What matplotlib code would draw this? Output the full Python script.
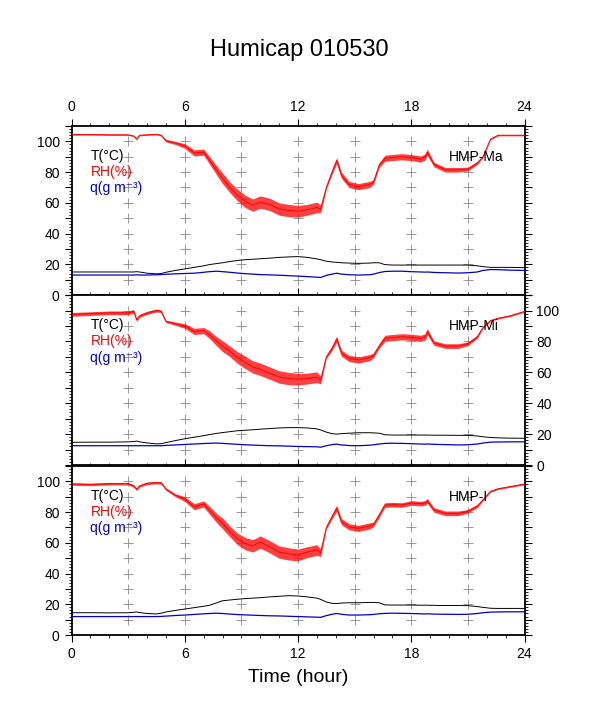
import numpy as np
import matplotlib.pyplot as plt
from matplotlib.ticker import MultipleLocator, FuncFormatter

plt.rcParams['font.family'] = ['Liberation Sans', 'DejaVu Sans']

hours = [0, 1, 2, 3, 3.3, 3.45, 3.6, 4, 4.5, 4.75, 5, 5.5, 6, 6.5, 7, 7.3,
         7.7, 8, 8.4, 8.8, 9.2, 9.6, 10, 10.5, 11, 11.5, 12, 12.5, 13, 13.2,
         13.5, 13.8, 14.05, 14.3, 14.7, 15.2, 15.8, 16, 16.3, 16.6, 17, 17.5,
         18, 18.5, 18.75, 18.85, 19.2, 19.8, 20.5, 21, 21.5, 21.8, 22.2, 22.6,
         23.2, 24]

# HMP-Ma
rh_ma = [104.5, 104.5, 104.3, 104.3, 103.5, 101.5, 104, 104.3, 104.6, 104, 100.5, 99,
         97, 92.5, 93, 88, 81, 76, 70, 65, 61, 58.5, 60.5, 59, 56, 55, 54.5, 55.5, 57,
         56, 70, 80, 87.5, 78, 72, 70.5, 72, 73.5, 84.5, 89, 89.5, 90, 89.5, 88.5, 90,
         93, 85, 81.5, 81.5, 82, 86, 90, 101.5, 104, 104, 104]
t_ma = [15, 15, 15, 15, 15, 15.2, 15, 14.2, 13.8, 14, 14.8, 16, 17, 18, 19, 19.8,
        20.5, 21, 21.8, 22.5, 23, 23.3, 23.6, 24, 24.5, 24.8, 25, 24.5, 23.5, 23, 22,
        21.5, 21.3, 21, 20.8, 20.6, 20.8, 21, 21, 19.8, 19.5, 19.5, 19.5, 19.5, 19.5,
        19.5, 19.5, 19.5, 19.5, 19.5, 19, 18.5, 18, 18, 18, 17.8]
q_ma = [13, 13, 13, 13, 13, 13.2, 13, 13, 13.2, 13.3, 13.5, 13.8, 14, 14.2, 14.8,
        15.2, 15.5, 15.2, 14.8, 14.3, 13.9, 13.6, 13.3, 13.1, 12.9, 12.6, 12.3, 12,
        11.6, 11.4, 12.8, 13.6, 14.2, 13.6, 13.2, 13, 13.2, 13.6, 14.6, 15.3, 15.5,
        15.5, 15.2, 15, 14.9, 15, 14.7, 14.5, 14.3, 14.5, 15, 16, 16.6, 16.5, 16.2, 16]
rh_ma_noise = [0.4, 0.4, 0.4, 0.4, 0.4, 0.4, 0.4, 0.4, 0.4, 0.5, 0.8, 1, 1.5, 2, 2,
               2.5, 3, 3.5, 3.5, 3.8, 4, 4, 4, 4, 4, 4, 3.8, 3.5, 3.5, 2.5, 1, 1.5,
               2, 2, 2, 2, 2, 1.5, 1.5, 2, 2, 2, 2, 2, 2, 2, 1.5, 1.5, 1.5, 1.2, 1,
               0.6, 0.4, 0.4, 0.4, 0.4]

# HMP-Mi
rh_mi = [97.5, 98, 98.5, 98.5, 99.4, 94, 96.5, 98.5, 100, 99.5, 93, 91.5, 90, 86.5,
         87, 84.5, 80, 77, 73.5, 69.5, 66.5, 63.5, 62, 59.5, 57, 56, 55.5, 56, 56.8,
         55, 70, 75.5, 81.5, 72.5, 69, 68, 69.5, 71, 77, 82, 82.5, 83, 82.7, 82, 83,
         86.4, 79, 77, 77, 78.5, 83, 89, 93.5, 95, 96.5, 99.4]
t_mi = [14.7, 14.8, 14.8, 15, 15.2, 15.5, 15, 14.3, 13.7, 13.8, 14.5, 15.8, 17, 18,
        19, 19.7, 20.5, 21, 21.6, 22.2, 22.5, 22.8, 23.2, 23.6, 24, 24.2, 24.2, 24,
        23.4, 22.7, 21.3, 20.3, 20, 20.3, 20.6, 20.9, 20.9, 20.8, 20.6, 19.6, 19.4,
        19.4, 19.4, 19.4, 19.4, 19.4, 19.3, 19.3, 19.2, 19.2, 18.8, 18.3, 17.8, 17.6,
        17.4, 17.3]
q_mi = [12.5, 12.5, 12.5, 12.5, 12.5, 12.5, 12.5, 12.5, 12.5, 12.5, 12.7, 13, 13.3,
        13.6, 13.9, 14.1, 14.2, 14, 13.7, 13.4, 13.1, 12.9, 12.7, 12.5, 12.4, 12.2, 12,
        11.9, 11.8, 11.5, 12.5, 13.2, 13.5, 13, 12.6, 12.5, 12.8, 13.1, 13.6, 14, 14.1,
        14, 13.8, 13.6, 13.5, 13.6, 13.4, 13.2, 13, 13.1, 13.6, 14.2, 14.8, 14.9, 15, 15]
rh_mi_noise = [1.2, 1.2, 1.2, 1.2, 1.2, 1, 1, 1, 1, 0.8, 0.8, 1, 1.5, 2, 2, 2.5, 3,
               3.5, 3.5, 3.8, 4, 4, 4, 4, 4, 4, 3.8, 3.5, 3.5, 2.5, 1, 1.5, 2, 2, 2,
               2, 2, 1.5, 1.5, 2, 2, 2, 2, 2, 2, 2, 1.5, 1.5, 1.5, 1.2, 1, 0.6, 0.5,
               0.5, 0.5, 0.5]

# HMP-I
rh_i = [98.3, 98, 98.5, 98.5, 97, 94.8, 97, 98.7, 99.2, 99, 95, 91, 88.5, 83.5, 85.3,
        81.4, 76, 72.7, 67.3, 62.5, 59.5, 58, 60.5, 57.5, 54, 52.8, 52.1, 54, 55.3,
        53.5, 70, 77, 82.5, 73.8, 70.5, 69.4, 71, 72, 78, 84.6, 84.8, 84.6, 85.9,
        85.5, 86, 87.4, 81.4, 79.2, 79.2, 80.5, 84, 88, 93.5, 95.2, 96.5, 98.3]
t_i = [14.5, 14.5, 14.4, 14.5, 14.8, 15, 14.6, 14, 13.7, 14.2, 15, 16, 16.9, 17.8,
       18.7, 19.3, 21, 22.3, 22.8, 23.3, 23.7, 24, 24.3, 24.8, 25.2, 25.6, 25.4, 24.8,
       24, 23.2, 21.5, 20.6, 20.5, 20.8, 21, 21, 21.2, 21.2, 21, 19.6, 19.5, 19.5,
       19.5, 19.4, 19.4, 19.4, 19.3, 19.2, 19.2, 19.1, 18.5, 18, 17.4, 17.3, 17.3, 17.3]
q_i = [12, 12, 12, 12, 12, 12, 12, 12, 12, 12.1, 12.3, 12.7, 13, 13.4, 13.8, 14, 14.2,
       14, 13.6, 13.3, 13.1, 12.9, 12.7, 12.5, 12.4, 12.2, 12, 11.8, 11.6, 11.5, 12.6,
       13.5, 14, 13.5, 13, 13, 13.2, 13.4, 13.8, 14.1, 14.2, 14.1, 14, 13.8, 13.7,
       13.8, 13.6, 13.5, 13.4, 13.5, 14, 14.5, 14.9, 15, 15.1, 15.1]
rh_i_noise = [0.8, 0.8, 0.8, 0.8, 0.8, 0.8, 0.8, 0.8, 0.8, 0.8, 0.8, 1, 1.5, 2, 2,
              2.5, 3, 3.5, 3.5, 3.8, 4, 4, 4, 4, 4, 4, 3.8, 3.5, 3.5, 2.5, 1, 1.5, 2,
              2, 2, 2, 2, 1.5, 1.5, 1.5, 1.5, 1.5, 1.5, 1.5, 1.5, 1.5, 1.5, 1.5, 1.5,
              1.2, 1, 0.6, 0.5, 0.5, 0.5, 0.5]

panels = [
    ("HMP-Ma", rh_ma, rh_ma_noise, t_ma, q_ma),
    ("HMP-Mi", rh_mi, rh_mi_noise, t_mi, q_mi),
    ("HMP-I", rh_i, rh_i_noise, t_i, q_i),
]

fig = plt.figure(figsize=(5.98, 7.08), dpi=100)
left, width = 0.1196, 0.7575
bottoms = [0.5833, 0.3432, 0.1031]
heights = [0.2387, 0.2400, 0.2387]

x = np.array(hours)
grid_x, grid_y = np.meshgrid(np.arange(3, 22, 3), np.arange(10, 101, 10))

for i, (name, rh, noise, temp, q) in enumerate(panels):
    ax = fig.add_axes([left, bottoms[i], width, heights[i]])
    ax.plot(grid_x.ravel(), grid_y.ravel(), '+', color='#888888', ms=7, mew=0.6, zorder=1)

    rh = np.array(rh)
    noise = np.array(noise)
    ax.fill_between(x, rh - noise, rh + noise, color='#ff1010', alpha=0.8, lw=0, zorder=2)
    ax.plot(x, rh, color='#ff0000', lw=0.7, zorder=3)
    ax.plot(x, temp, color='black', lw=0.7, zorder=3)
    ax.plot(x, q, color='#0000cc', lw=0.9, zorder=3)

    ax.text(1.0, 90.5, "T(°C)", color='black', fontsize=10, va='center')
    ax.text(1.0, 80, "RH(%)", color='#ff0000', fontsize=10, va='center')
    ax.text(1.0, 69.5, "q(g m⁻³)", color='#0000cc', fontsize=10, va='center')
    ax.text(20.0, 90, name, color='black', fontsize=10, va='center')

    ax.set_xlim(0, 24)
    ax.set_ylim(0, 110)
    ax.xaxis.set_major_locator(MultipleLocator(6))
    ax.xaxis.set_minor_locator(MultipleLocator(1))
    ax.yaxis.set_major_locator(MultipleLocator(10))
    ax.yaxis.set_minor_locator(MultipleLocator(2))
    ax.yaxis.set_major_formatter(FuncFormatter(
        lambda v, p: "%d" % v if int(round(v)) % 20 == 0 and v <= 100 else ""))
    ax.tick_params(which='major', direction='out', length=5, width=0.8, labelsize=10)
    ax.tick_params(which='minor', direction='out', length=2.5, width=0.6)
    ax.tick_params(axis='both', which='both', top=True, right=True, bottom=True, left=True)
    for s in ax.spines.values():
        s.set_linewidth(1.3)

    if i == 0:
        ax.tick_params(axis='x', labeltop=True, labelbottom=False)
        ax.tick_params(axis='y', labelleft=True, labelright=False)
    elif i == 1:
        ax.tick_params(axis='x', labeltop=False, labelbottom=False)
        ax.tick_params(axis='y', labelleft=False, labelright=True)
    else:
        ax.tick_params(axis='x', labeltop=False, labelbottom=True)
        ax.tick_params(axis='y', labelleft=True, labelright=False)
        ax.set_xlabel("Time (hour)", fontsize=14, labelpad=6)

fig.text(0.5, 0.929, "Humicap 010530", ha='center', va='center', fontsize=17)

fig.savefig("out.png", dpi=100)
